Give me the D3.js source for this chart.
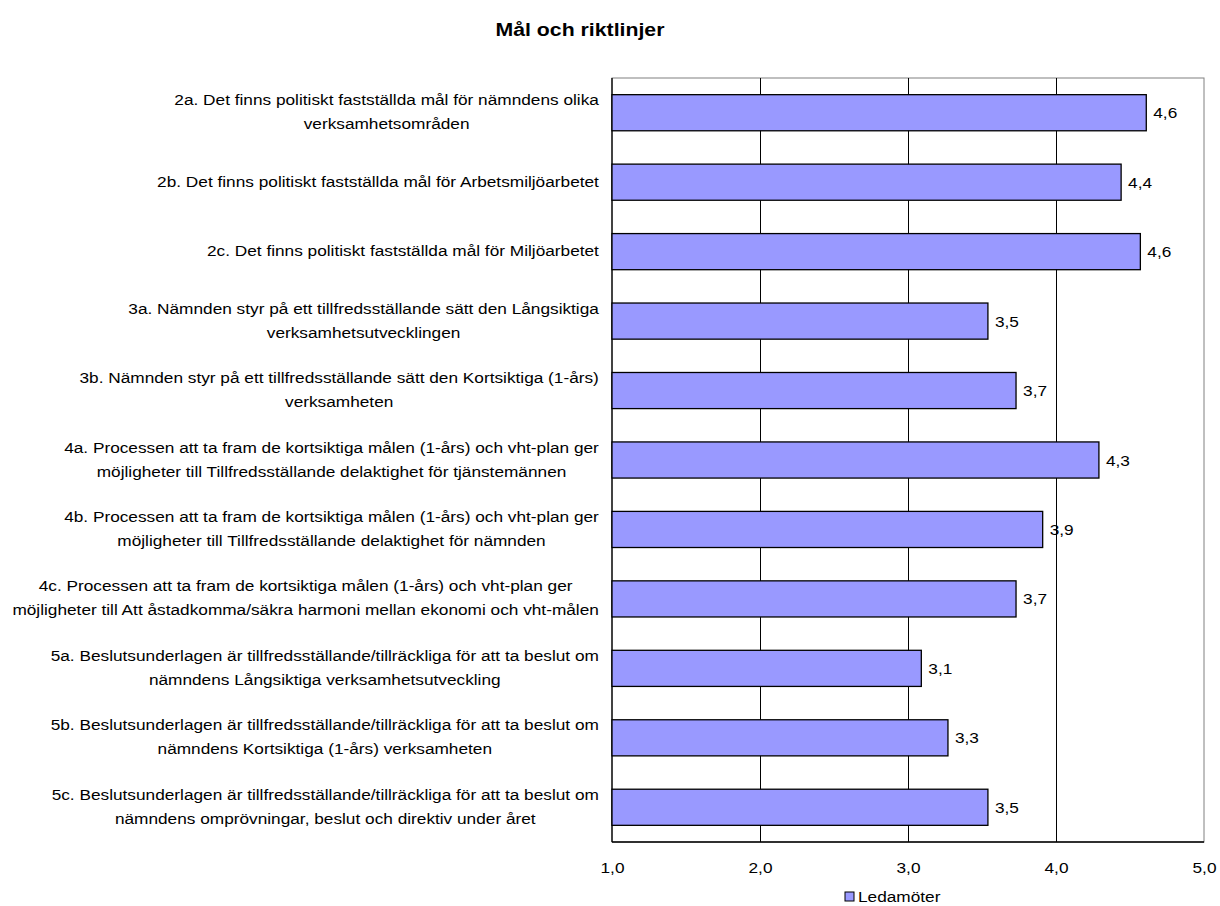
<!DOCTYPE html>
<html>
<head>
<meta charset="utf-8">
<script src="https://cdn.jsdelivr.net/npm/d3@7"></script>
<style>
  body { margin: 0; background: #fff; }
  text { font-family: "Liberation Sans", Arial, sans-serif; fill: #000; }
</style>
</head>
<body>
<svg id="chart" width="1220" height="906"></svg>
<script>
var title = "Mål och riktlinjer";
var seriesName = "Ledamöter";

var categories = [
    ["2a. Det finns politiskt fastställda mål för nämndens olika", "verksamhetsområden"],
    ["2b. Det finns politiskt fastställda mål för Arbetsmiljöarbetet"],
    ["2c. Det finns politiskt fastställda mål för Miljöarbetet"],
    ["3a. Nämnden styr på ett tillfredsställande sätt den Långsiktiga", "verksamhetsutvecklingen"],
    ["3b. Nämnden styr på ett tillfredsställande sätt den Kortsiktiga (1-års)", "verksamheten"],
    ["4a. Processen att ta fram de kortsiktiga målen (1-års) och vht-plan ger", "möjligheter till Tillfredsställande delaktighet för tjänstemännen"],
    ["4b. Processen att ta fram de kortsiktiga målen (1-års) och vht-plan ger", "möjligheter till Tillfredsställande delaktighet för nämnden"],
    ["4c. Processen att ta fram de kortsiktiga målen (1-års) och vht-plan ger", "möjligheter till Att åstadkomma/säkra harmoni mellan ekonomi och vht-målen"],
    ["5a. Beslutsunderlagen är tillfredsställande/tillräckliga för att ta beslut om", "nämndens Långsiktiga verksamhetsutveckling"],
    ["5b. Beslutsunderlagen är tillfredsställande/tillräckliga för att ta beslut om", "nämndens Kortsiktiga (1-års) verksamheten"],
    ["5c. Beslutsunderlagen är tillfredsställande/tillräckliga för att ta beslut om", "nämndens omprövningar, beslut och direktiv under året"]
];

var values = [4.61, 4.44, 4.57, 3.54, 3.73, 4.29, 3.91, 3.73, 3.09, 3.27, 3.54];

var xTicks = [1, 2, 3, 4, 5];
var gridTicks = [2, 3, 4];

// the original text is drawn a little wide, so labels are stretched sideways
var stretch = 1.15;
var fontSize = 15;

var margin = { top: 78, right: 16, bottom: 64, left: 612 };
var width = 1220 - margin.left - margin.right;
var height = 906 - margin.top - margin.bottom;

var comma = function (v) { return d3.format(".1f")(v).replace(".", ","); };

var svg = d3.select("#chart");

var x = d3.scaleLinear().domain([1, 5]).range([0, width]);
var y = d3.scaleBand()
    .domain(d3.range(categories.length))
    .range([0, height])
    .paddingInner(0.48)
    .paddingOuter(0.24);

var g = svg.append("g")
    .attr("transform", "translate(" + margin.left + "," + margin.top + ")");

// frame, top/right in grey
g.append("rect")
    .attr("x", 0).attr("y", 0)
    .attr("width", width).attr("height", height)
    .attr("fill", "#fff")
    .attr("stroke", "#808080")
    .attr("stroke-width", 1);

// vertical gridlines
g.append("g")
    .attr("class", "grid")
    .attr("transform", "translate(0," + height + ")")
    .call(d3.axisBottom(x).tickValues(gridTicks).tickSize(-height).tickFormat(""))
    .call(function (s) { s.select(".domain").remove(); })
    .selectAll("line").attr("stroke", "#000").attr("stroke-width", 1);

// left and bottom axis lines
g.append("line").attr("x1", 0).attr("x2", 0).attr("y1", 0).attr("y2", height)
    .attr("stroke", "#000").attr("stroke-width", 1.3);
g.append("line").attr("x1", 0).attr("x2", width).attr("y1", height).attr("y2", height)
    .attr("stroke", "#000").attr("stroke-width", 1.3);

// bars
g.selectAll(".bar")
    .data(values)
    .enter().append("rect")
    .attr("class", "bar")
    .attr("x", x(1))
    .attr("y", function (d, i) { return y(i); })
    .attr("width", function (d) { return x(d) - x(1); })
    .attr("height", y.bandwidth())
    .attr("fill", "#9999ff")
    .attr("stroke", "#000")
    .attr("stroke-width", 1.3);

// value labels
g.selectAll(".val")
    .data(values)
    .enter().append("text")
    .attr("class", "val")
    .attr("transform", function (d, i) {
        return "translate(" + (x(d) + 7) + "," + (y(i) + y.bandwidth() / 2 + 5.5) + ") scale(" + stretch + ",1)";
    })
    .style("font-size", fontSize + "px")
    .text(function (d) { return comma(d); });

// x axis tick labels
g.append("g")
    .attr("class", "x axis")
    .attr("transform", "translate(0," + height + ")")
    .call(d3.axisBottom(x).tickValues(xTicks).tickSize(0).tickPadding(0).tickFormat(comma))
    .call(function (s) { s.select(".domain").remove(); })
    .selectAll("text")
    .attr("y", 31).attr("dy", null)
    .attr("transform", "scale(" + stretch + ",1)")
    .style("font-size", fontSize + "px")
    .style("font-family", "\"Liberation Sans\", Arial, sans-serif")
    .attr("fill", "#000");

// category labels: each block centered, right edge against the plot
var labelRight = margin.left - 13;
var lineGap = 24;
var cats = svg.append("g").attr("class", "cats");
categories.forEach(function (lines, i) {
    var cy = margin.top + y(i) + y.bandwidth() / 2;
    var blk = cats.append("g");
    var texts = blk.selectAll("text")
        .data(lines)
        .enter().append("text")
        .style("font-size", fontSize + "px")
        .attr("text-anchor", "middle")
        .text(function (d) { return d; });
    var maxW = d3.max(texts.nodes(), function (n) { return n.getComputedTextLength(); }) * stretch;
    var cx = labelRight - maxW / 2;
    texts.attr("transform", function (d, k) {
        var by = cy + 4.5 + (k - (lines.length - 1) / 2) * lineGap;
        return "translate(" + cx + "," + by + ") scale(" + stretch + ",1)";
    });
});

// title
svg.append("text")
    .attr("transform", "translate(580,36) scale(" + stretch + ",1)")
    .attr("text-anchor", "middle")
    .style("font-size", "18.5px")
    .style("font-weight", "bold")
    .text(title);

// legend
var leg = svg.append("g").attr("transform", "translate(845,892)");
leg.append("rect")
    .attr("width", 9).attr("height", 9)
    .attr("fill", "#9999ff")
    .attr("stroke", "#000")
    .attr("stroke-width", 1);
leg.append("text")
    .attr("transform", "translate(13,10) scale(" + stretch + ",1)")
    .style("font-size", fontSize + "px")
    .text(seriesName);
</script>
</body>
</html>
